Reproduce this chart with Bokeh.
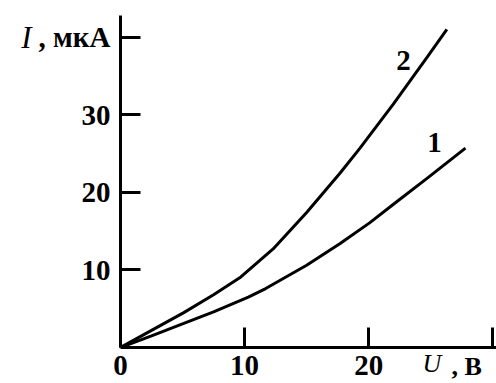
from bokeh.plotting import figure
from bokeh.models import Range1d, FixedTicker, Label, LinearAxis
from bokeh.embed import file_html
from bokeh.resources import INLINE

# Curve 2 (upper)
U2 = [0, 2.5, 5.1, 7.5, 9.7, 12.3, 15.0, 17.7, 19.3, 22.0, 24.7, 26.3]
I2 = [0, 2.2, 4.5, 6.8, 9.1, 12.7, 17.4, 22.5, 25.7, 31.4, 37.4, 41.0]
# Curve 1 (lower)
U1 = [0, 2.5, 5.1, 7.5, 10.3, 11.7, 15.0, 17.7, 20.1, 22.1, 24.7, 27.8]
I1 = [0, 1.5, 3.1, 4.6, 6.5, 7.6, 10.6, 13.4, 16.1, 18.6, 21.8, 25.7]

x_ticks = [0, 10, 20, 30]
y_ticks = [10, 20, 30, 40]

SERIF = "Liberation Serif"
FS = "29px"

p = figure(width=496, height=383, output_backend="svg", toolbar_location=None,
           x_range=Range1d(0, 30.3), y_range=Range1d(0, 42.8),
           min_border_left=120, min_border_right=0, min_border_top=15,
           min_border_bottom=34)
p.outline_line_color = None
p.grid.grid_line_color = None
p.background_fill_color = "white"
p.border_fill_color = "white"

for ax in (p.xaxis[0], p.yaxis[0]):
    ax.axis_line_width = 3
    ax.axis_line_color = "black"
    ax.major_tick_line_width = 3
    ax.major_tick_line_color = "black"
    ax.major_tick_in = 20
    ax.major_tick_out = 0
    ax.minor_tick_line_color = None
    ax.major_label_text_font = SERIF
    ax.major_label_text_font_style = "bold"
    ax.major_label_text_font_size = FS
    ax.major_label_text_color = "black"

p.xaxis.ticker = FixedTicker(ticks=x_ticks)
p.yaxis.ticker = FixedTicker(ticks=y_ticks)
p.xaxis.major_label_overrides = {30: ""}
p.yaxis.major_label_overrides = {40: ", мкА"}
p.xaxis.major_label_standoff = 8
p.yaxis.major_label_standoff = 10


def text_axis(tick, text, style, size, standoff):
    return LinearAxis(ticker=FixedTicker(ticks=[tick]),
                      major_label_overrides={tick: text},
                      axis_line_color=None, major_tick_line_color=None,
                      minor_tick_line_color=None, major_tick_in=0,
                      major_tick_out=0, major_label_standoff=standoff,
                      major_label_text_font=SERIF,
                      major_label_text_font_style=style,
                      major_label_text_font_size=size,
                      major_label_text_color="black")


# italic "I" of the y-axis title
p.add_layout(text_axis(40, "I", "italic", "31px", 4), "left")
# x-axis title "U, В" on the tick-label row
p.add_layout(text_axis(25.1, "U", "italic", "26px", -29), "below")
p.add_layout(text_axis(27.9, ", В", "bold", "26px", -29), "below")

p.line(U2, I2, line_color="black", line_width=3)
p.line(U1, I1, line_color="black", line_width=3)

for x, y, t in [(22.8, 37.0, "2"), (25.3, 26.4, "1")]:
    p.add_layout(Label(x=x, y=y, text=t, text_font=SERIF, text_font_style="bold",
                       text_font_size=FS, text_color="black",
                       text_align="center", text_baseline="middle"))

open("out.html", "w").write(file_html(p, INLINE))
